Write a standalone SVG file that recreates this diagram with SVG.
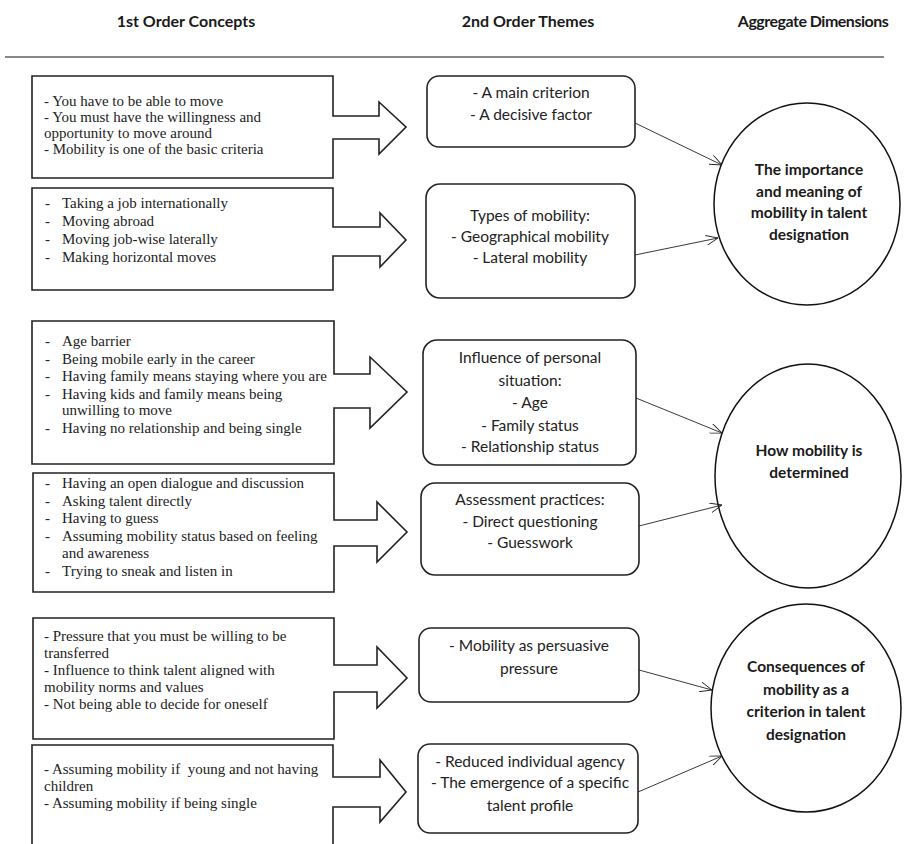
<svg xmlns="http://www.w3.org/2000/svg" width="904" height="844" viewBox="0 0 904 844">
<defs>
<style>
.hdr{font-family:Lato,"Liberation Sans",sans-serif;font-weight:bold;font-size:16px;fill:#1a1a1a;text-anchor:middle}
.box{fill:#fff;stroke:#222;stroke-width:1.6}
.lt{font-family:"Liberation Serif","Times New Roman",serif;font-size:15px;fill:#222}
.th{fill:#fff;stroke:#222;stroke-width:1.6}
.tt{font-family:Lato,"Liberation Sans",sans-serif;font-size:15.5px;fill:#222;text-anchor:middle}
.ct{font-family:Lato,"Liberation Sans",sans-serif;font-weight:bold;font-size:15.5px;fill:#1a1a1a;text-anchor:middle}
.circ{fill:#fff;stroke:#111;stroke-width:1.5}
.con{stroke:#222;stroke-width:0.9;fill:none;marker-end:url(#open)}
</style>
<marker id="open" viewBox="0 0 12 10" refX="12" refY="5" markerWidth="12" markerHeight="10" markerUnits="userSpaceOnUse" orient="auto">
<path d="M0,0 L12,5 L0,10" fill="none" stroke="#222" stroke-width="0.9"/>
</marker>
</defs>
<rect width="904" height="844" fill="#fff"/>

<g id="headers">
<text class="hdr" x="186" y="27">1st Order Concepts</text>
<text class="hdr" x="528" y="27">2nd Order Themes</text>
<text class="hdr" x="813" y="27" letter-spacing="-0.5">Aggregate Dimensions</text>
<line x1="5" y1="57" x2="884" y2="57" stroke="#888" stroke-width="2"/>
</g>

<g id="concept1">
<path class="box" d="M32,76 L333,76 L333,116 L379,116 L379,102 L406,127 L379,154 L379,139 L333,139 L333,178 L32,178 Z"/>
<text class="lt" x="44" y="106">- You have to be able to move</text>
<text class="lt" x="44" y="122">- You must have the willingness and</text>
<text class="lt" x="44" y="138">opportunity to move around</text>
<text class="lt" x="44" y="154">- Mobility is one of the basic criteria</text>
</g>

<g id="concept2">
<path class="box" d="M32,188 L333,188 L333,227 L380,227 L380,213 L406,240 L380,267 L380,256 L333,256 L333,290 L32,290 Z"/>
<text class="lt" x="45" y="208">-</text><text class="lt" x="62" y="208">Taking a job internationally</text>
<text class="lt" x="45" y="226">-</text><text class="lt" x="62" y="226">Moving abroad</text>
<text class="lt" x="45" y="244">-</text><text class="lt" x="62" y="244">Moving job-wise laterally</text>
<text class="lt" x="45" y="262">-</text><text class="lt" x="62" y="262">Making horizontal moves</text>
</g>

<g id="concept3">
<path class="box" d="M32,321 L334,321 L334,374 L370,374 L370,357 L407,392 L370,428 L370,408 L334,408 L334,464 L32,464 Z"/>
<text class="lt" x="45" y="346">-</text><text class="lt" x="62" y="346">Age barrier</text>
<text class="lt" x="45" y="363.5">-</text><text class="lt" x="62" y="363.5">Being mobile early in the career</text>
<text class="lt" x="45" y="381">-</text><text class="lt" x="62" y="381">Having family means staying where you are</text>
<text class="lt" x="45" y="398.5">-</text><text class="lt" x="62" y="398.5">Having kids and family means being</text>
<text class="lt" x="62" y="415">unwilling to move</text>
<text class="lt" x="45" y="433">-</text><text class="lt" x="62" y="433">Having no relationship and being single</text>
</g>

<g id="concept4">
<path class="box" d="M33,473 L334,473 L334,520 L377,520 L377,502 L407,532 L377,562 L377,546 L334,546 L334,592 L33,592 Z"/>
<text class="lt" x="45" y="488">-</text><text class="lt" x="62" y="488">Having an open dialogue and discussion</text>
<text class="lt" x="45" y="505.5">-</text><text class="lt" x="62" y="505.5">Asking talent directly</text>
<text class="lt" x="45" y="523">-</text><text class="lt" x="62" y="523">Having to guess</text>
<text class="lt" x="45" y="540.5">-</text><text class="lt" x="62" y="540.5">Assuming mobility status based on feeling</text>
<text class="lt" x="62" y="558">and awareness</text>
<text class="lt" x="45" y="575.5">-</text><text class="lt" x="62" y="575.5">Trying to sneak and listen in</text>
</g>

<g id="concept5">
<path class="box" d="M33,618 L334,618 L334,665 L377,665 L377,647 L407,678 L377,708 L377,692 L334,692 L334,739 L33,739 Z"/>
<text class="lt" x="44" y="641">- Pressure that you must be willing to be</text>
<text class="lt" x="44" y="658">transferred</text>
<text class="lt" x="44" y="675">- Influence to think talent aligned with</text>
<text class="lt" x="44" y="692">mobility norms and values</text>
<text class="lt" x="44" y="709">- Not being able to decide for oneself</text>
</g>

<g id="concept6">
<path class="box" d="M32,850 L32,745 L333,745 L333,777 L380,777 L380,760 L406,792 L380,822 L380,807 L333,807 L333,850"/>
<text class="lt" x="44" y="774" xml:space="preserve">- Assuming mobility if  young and not having</text>
<text class="lt" x="44" y="791">children</text>
<text class="lt" x="44" y="808">- Assuming mobility if being single</text>
</g>

<g id="theme1">
<rect class="th" x="427" y="76" width="208" height="71" rx="12"/>
<text class="tt" x="531" y="98">- A main criterion</text>
<text class="tt" x="531" y="120">- A decisive factor</text>
</g>
<g id="theme2">
<rect class="th" x="426" y="184" width="209" height="114" rx="14"/>
<text class="tt" x="530" y="221">Types of mobility:</text>
<text class="tt" x="530" y="242">- Geographical mobility</text>
<text class="tt" x="530" y="263">- Lateral mobility</text>
</g>
<g id="theme3">
<rect class="th" x="423" y="340" width="213" height="125" rx="14"/>
<text class="tt" x="530" y="363">Influence of personal</text>
<text class="tt" x="530" y="386">situation:</text>
<text class="tt" x="530" y="408">- Age</text>
<text class="tt" x="530" y="431">- Family status</text>
<text class="tt" x="530" y="452">- Relationship status</text>
</g>
<g id="theme4">
<rect class="th" x="421" y="483" width="218" height="92" rx="14"/>
<text class="tt" x="530" y="505">Assessment practices:</text>
<text class="tt" x="530" y="527">- Direct questioning</text>
<text class="tt" x="530" y="548">- Guesswork</text>
</g>
<g id="theme5">
<rect class="th" x="419" y="628" width="220" height="74" rx="12"/>
<text class="tt" x="529" y="651">- Mobility as persuasive</text>
<text class="tt" x="529" y="674">pressure</text>
</g>
<g id="theme6">
<rect class="th" x="418" y="744" width="220" height="89" rx="12"/>
<text class="tt" x="530" y="767">- Reduced individual agency</text>
<text class="tt" x="530" y="788">- The emergence of a specific</text>
<text class="tt" x="530" y="811">talent profile</text>
</g>

<g id="dim1">
<ellipse class="circ" cx="807" cy="204" rx="93" ry="101"/>
<text class="ct" x="809" y="175">The importance</text>
<text class="ct" x="809" y="197">and meaning of</text>
<text class="ct" x="809" y="218">mobility in talent</text>
<text class="ct" x="809" y="240">designation</text>
</g>
<g id="dim2">
<ellipse class="circ" cx="808" cy="476" rx="93" ry="112"/>
<text class="ct" x="809" y="456">How mobility is</text>
<text class="ct" x="809" y="478">determined</text>
</g>
<g id="dim3">
<ellipse class="circ" cx="806" cy="708" rx="95" ry="104"/>
<text class="ct" x="806" y="672">Consequences of</text>
<text class="ct" x="806" y="695">mobility as a</text>
<text class="ct" x="806" y="717">criterion in talent</text>
<text class="ct" x="806" y="740">designation</text>
</g>

<g id="connectors">
<line class="con" x1="635" y1="123" x2="722" y2="165"/>
<line class="con" x1="635" y1="255" x2="718" y2="238"/>
<line class="con" x1="636" y1="398" x2="722" y2="433"/>
<line class="con" x1="639" y1="526" x2="722" y2="505"/>
<line class="con" x1="639" y1="670" x2="712" y2="690"/>
<line class="con" x1="638" y1="792" x2="722" y2="756"/>
</g>
</svg>
